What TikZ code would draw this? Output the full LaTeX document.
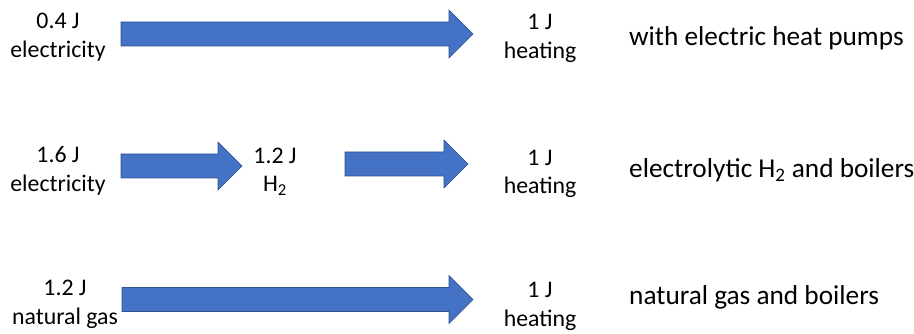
\documentclass[tikz,border=0pt]{standalone}
\usepackage{fontspec}
\setmainfont{Carlito}
\definecolor{arrowfill}{HTML}{4472C4}
\definecolor{arrowline}{HTML}{2F528F}
\tikzset{
  lbl/.style={align=center, inner sep=0pt, font=\fontsize{23.8}{28.5}\selectfont},
  desc/.style={anchor=west, inner sep=0pt, font=\fontsize{27.3}{32}\selectfont},
  blockarrow/.style={fill=arrowfill, draw=arrowline, line width=0.6pt, line join=miter}
}
% #1 tail coordinate, #2 tip coordinate (same y)
\newcommand\blockarr[2]{%
  \path[blockarrow] ([yshift=12pt]#1) -- ([xshift=-24pt,yshift=12pt]#2) -- ([xshift=-24pt,yshift=24pt]#2)
    -- (#2) -- ([xshift=-24pt,yshift=-24pt]#2) -- ([xshift=-24pt,yshift=-12pt]#2)
    -- ([yshift=-12pt]#1) -- cycle;}
\begin{document}
\begin{tikzpicture}[x=1pt,y=-1pt]
\useasboundingbox (0,0) rectangle (914,334);
% row 1
\node[lbl] (l1) at (58,37) {0.4 J\\electricity};
\node[lbl] (r1) at (540,38.5) {1 J\\heating};
\node[desc] (d1) at (629,38) {with electric heat pumps};
\coordinate (t1) at (121,34);
\coordinate (h1) at (473,34);
\blockarr{t1}{h1}
% row 2
\node[lbl] (l2) at (58,171) {1.6 J\\electricity};
\node[lbl] (m2) at (275,171.5) {1.2 J\\H\textsubscript{2}};
\node[lbl] (r2) at (540,174) {1 J\\heating};
\node[desc] (d2) at (629,170) {electrolytic H\textsubscript{2} and boilers};
\coordinate (t2a) at (121,166);
\coordinate (h2a) at (242,166);
\blockarr{t2a}{h2a}
\coordinate (t2b) at (345,164);
\coordinate (h2b) at (468,164);
\blockarr{t2b}{h2b}
% row 3
\node[lbl] (l3) at (65,304.5) {1.2 J\\natural gas};
\node[lbl] (r3) at (540,306.5) {1 J\\heating};
\node[desc] (d3) at (629,297.5) {natural gas and boilers};
\coordinate (t3) at (122,299.5);
\coordinate (h3) at (473,299.5);
\blockarr{t3}{h3}
\end{tikzpicture}
\end{document}
